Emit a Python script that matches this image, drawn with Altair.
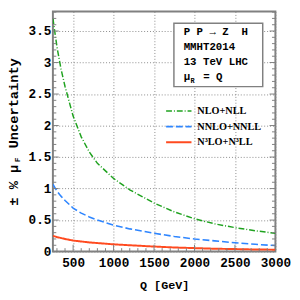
import altair as alt
import pandas as pd

Q = [250, 300, 350, 400, 500, 600, 700, 800, 1000, 1200, 1500, 1750, 2000, 2250, 2500, 2750, 3000]
nlo = [3.70, 3.25, 2.90, 2.62, 2.15, 1.82, 1.58, 1.40, 1.16, 0.98, 0.77, 0.63, 0.52, 0.44, 0.38, 0.33, 0.29]
nnlo = [1.07, 0.96, 0.88, 0.81, 0.69, 0.61, 0.55, 0.50, 0.42, 0.36, 0.29, 0.24, 0.20, 0.17, 0.14, 0.115, 0.095]
n3lo = [0.25, 0.23, 0.215, 0.20, 0.175, 0.16, 0.145, 0.135, 0.115, 0.10, 0.08, 0.065, 0.055, 0.045, 0.04, 0.033, 0.03]

series_names = ["NLO+NLL", "NNLO+NNLL", "N³LO+N³LL"]
series_vals = [nlo, nnlo, n3lo]
series_colors = ["#1fa21f", "#2f86ff", "#ff4a1f"]
series_dash = [[6, 2, 1, 2], [7, 3], [1, 0]]
series_width = [1.5, 1.6, 2.0]

x_major = [500, 1000, 1500, 2000, 2500, 3000]
x_minor = [q for q in range(300, 3001, 100) if q % 500 != 0]
y_major = [0.0, 0.5, 1.0, 1.5, 2.0, 2.5, 3.0, 3.5]
y_minor = [round(i * 0.1, 1) for i in range(1, 39) if i % 5 != 0]

NB = "\u00a0"
box_lines = ["P" + NB + "P" + NB + "→" + NB + "Z" + NB + NB + "H", "MMHT2014", "13" + NB + "TeV" + NB + "LHC"]
mu_text, mu_sub, mu_rest = "μ", "R", "=" + NB + "Q"
ytitle = "±" + NB + "%" + NB + "μ" + NB * 2 + "Uncertainty"

W, H = 228, 246
XDOM = [250, 3000]
YDOM = [0, 3.81]
MONO = "Liberation Mono"
SERIF = "Liberation Serif"
FRAME = "#808080"

xs = alt.Scale(domain=XDOM, nice=False, zero=False)
ys = alt.Scale(domain=YDOM, nice=False, zero=False)

XAX = alt.Axis(values=x_major, format="d", grid=True, ticks=False, domain=False,
               labelOverlap=False, labelFlush=False,
               gridDash=[1, 2], gridColor="#8a8a8a", gridWidth=1,
               labelFont=MONO, labelFontWeight="bold", labelFontSize=13,
               labelColor="black", labelPadding=5,
               title="Q" + NB + "[GeV]", titleFont=MONO, titleFontWeight="bold",
               titleFontSize=12, titleColor="black", titlePadding=11)
YAX = alt.Axis(values=y_major, format="~g", grid=True, ticks=False, domain=False,
               labelOverlap=False, labelFlush=False,
               gridDash=[1, 2], gridColor="#8a8a8a", gridWidth=1,
               labelFont=MONO, labelFontWeight="bold", labelFontSize=13,
               labelColor="black", labelPadding=2, title=None)

def X(f):
    return alt.X(f, scale=xs, axis=XAX)

def Y(f):
    return alt.Y(f, scale=ys, axis=YAX)

layers = []

def yticks(vals, x0, x1):
    return alt.Chart(pd.DataFrame({"v": vals})).mark_rule(color=FRAME, strokeWidth=1).encode(
        y=Y("v:Q"), x=alt.value(x0), x2=alt.value(x1))

def xticks(vals, y0, y1):
    return alt.Chart(pd.DataFrame({"Q": vals})).mark_rule(color=FRAME, strokeWidth=1).encode(
        x=X("Q:Q"), y=alt.value(y0), y2=alt.value(y1))

for name, vals, col, dash, sw in zip(series_names, series_vals, series_colors, series_dash, series_width):
    df = pd.DataFrame({"Q": Q, "v": vals})
    layers.append(alt.Chart(df).mark_line(color=col, strokeDash=dash, strokeWidth=sw, clip=True).encode(
        x=X("Q:Q"), y=Y("v:Q")))

layers += [
    yticks(y_major, 0, 6), yticks(y_minor, 0, 3.5),
    yticks(y_major, W - 6, W), yticks(y_minor, W - 3.5, W),
    xticks(x_major, H, H - 7), xticks(x_minor, H, H - 3.5),
]

one = pd.DataFrame({"a": [0]})

def txt(t, x, y, size, font=MONO, align="left", angle=None):
    kw = dict(text=t, font=font, fontWeight="bold", fontSize=size, align=align,
              baseline="middle", color="black")
    if angle is not None:
        kw["angle"] = angle
    return alt.Chart(one).mark_text(**kw).encode(x=alt.value(x), y=alt.value(y))

layers.append(alt.Chart(one).mark_rect(fill="white", stroke=FRAME, strokeWidth=1.5).encode(
    x=alt.value(124), x2=alt.value(215), y=alt.value(12), y2=alt.value(77)))
for i, t in enumerate(box_lines):
    layers.append(txt(t, 134, 21 + i * 15.3, 11))
layers.append(txt(mu_text, 134, 67, 11))
layers.append(txt(mu_sub, 141, 71, 7))
layers.append(txt(mu_rest, 154, 67, 11))

for i, (name, col, dash, sw) in enumerate(zip(series_names, series_colors, series_dash, series_width)):
    yy = 102 + i * 16
    layers.append(alt.Chart(one).mark_rule(color=col, strokeDash=dash, strokeWidth=sw).encode(
        x=alt.value(116), x2=alt.value(142), y=alt.value(yy)))
    layers.append(txt(name, 148, yy, 10.5, font=SERIF))

layers.append(txt(ytitle, -40, 199, 14, angle=270))
layers.append(txt("F", -36, 152, 8, align="center", angle=270))

chart = alt.layer(*layers).properties(
    width=W, height=H,
    autosize=alt.AutoSizeParams(type="none"),
    padding={"left": 46, "top": 0, "right": 17, "bottom": 44},
).configure_view(stroke=FRAME, strokeWidth=2)

chart.save("out.html", embed_options={"renderer": "svg", "actions": False})
